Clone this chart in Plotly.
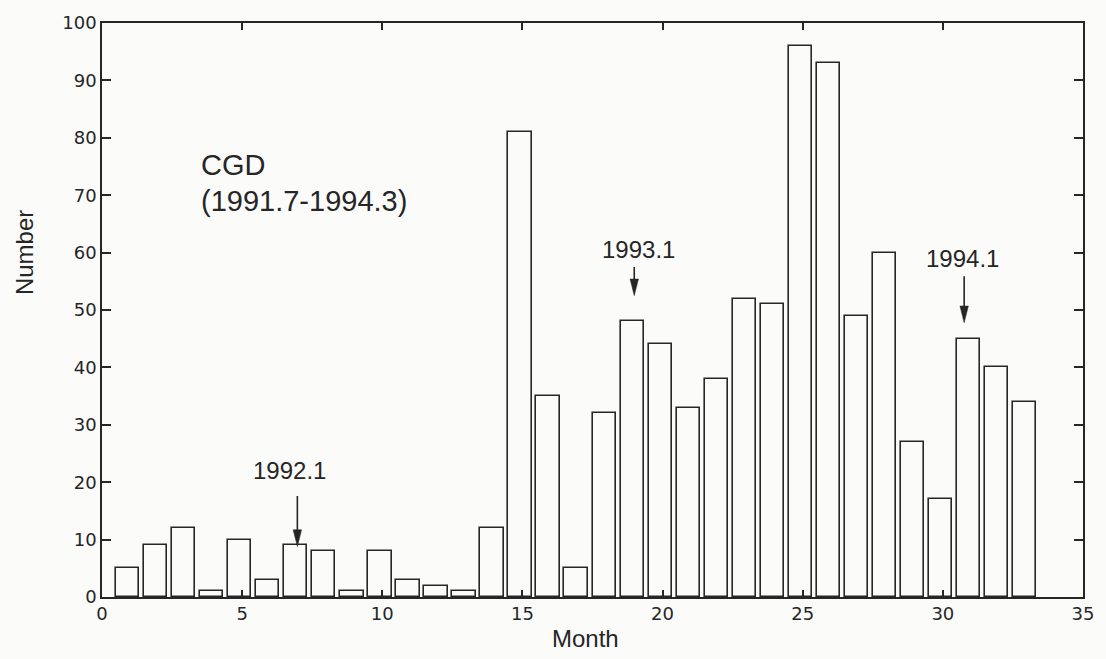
import plotly.graph_objects as go

# ---- data ----
months = list(range(1, 34))
counts = [5, 9, 12, 1, 10, 3, 9, 8, 1, 8, 3, 2, 1, 12, 81, 35, 5,
          32, 48, 44, 33, 38, 52, 51, 96, 93, 49, 60, 27, 17, 45, 40, 34]
x_ticks = [0, 5, 10, 15, 20, 25, 30, 35]
y_ticks = [0, 10, 20, 30, 40, 50, 60, 70, 80, 90, 100]
title_lines = ["CGD", "(1991.7-1994.3)"]
event_labels = ["1992.1", "1993.1", "1994.1"]
event_months = [7, 19, 31]

# ---- placement / style (not data) ----
event_arrow_x = [6.97, 18.99, 30.76]
event_label_x = [6.68, 19.14, 30.71]
event_label_y = [22.1, 60.6, 59.0]
arrow_tail_y = [17.6, 57.5, 55.9]
arrow_tip_y = [8.8, 52.5, 47.8]
head_len = 2.9
head_hw = 0.15

INK = "#262626"
BG = "#fbfbfa"
FONT = "Liberation Sans, Arial, Helvetica, sans-serif"
TICKFONT = "DejaVu Sans, Verdana, sans-serif"

fig = go.Figure()
fig.add_trace(go.Bar(
    x=months, y=counts, width=0.83, offset=-0.5,
    marker=dict(color=BG, line=dict(color=INK, width=1.6)),
    showlegend=False,
))

shapes = []
annotations = []
for lab, ax, lx, ly, ty, py in zip(event_labels, event_arrow_x, event_label_x,
                                   event_label_y, arrow_tail_y, arrow_tip_y):
    shapes.append(dict(type="line", xref="x", yref="y", x0=ax, x1=ax,
                       y0=ty, y1=py + head_len * 0.8,
                       line=dict(color=INK, width=1.6)))
    shapes.append(dict(type="path", xref="x", yref="y",
                       path=f"M {ax - head_hw},{py + head_len} L {ax + head_hw},{py + head_len} L {ax},{py} Z",
                       fillcolor=INK, line=dict(color=INK, width=0.5)))
    annotations.append(dict(x=lx, y=ly, xref="x", yref="y", text=lab,
                            showarrow=False, xanchor="center", yanchor="middle",
                            font=dict(size=24, color=INK, family=FONT)))

annotations.append(dict(x=3.47, y=75.2, xref="x", yref="y", text=title_lines[0],
                        showarrow=False, xanchor="left", yanchor="middle",
                        font=dict(size=29, color=INK, family=FONT)))
annotations.append(dict(x=3.47, y=69.0, xref="x", yref="y", text=title_lines[1],
                        showarrow=False, xanchor="left", yanchor="middle",
                        font=dict(size=29, color=INK, family=FONT)))
annotations.append(dict(x=0.493, y=-0.073, xref="paper", yref="paper", text="Month",
                        showarrow=False, xanchor="center", yanchor="middle",
                        font=dict(size=24, color=INK, family=FONT)))
annotations.append(dict(x=-0.079, y=0.60, xref="paper", yref="paper", text="Number",
                        showarrow=False, xanchor="center", yanchor="middle", textangle=-90,
                        font=dict(size=24, color=INK, family=FONT)))

axis_common = dict(showline=True, linecolor=INK, linewidth=1.6, mirror="ticks",
                   ticks="inside", tickcolor=INK, tickwidth=1.6, showgrid=False,
                   zeroline=False, tickfont=dict(size=18, color=INK, family=TICKFONT))

fig.update_layout(
    width=1106, height=659,
    margin=dict(l=102, r=14, t=15, b=62),
    paper_bgcolor=BG, plot_bgcolor=BG,
    xaxis=dict(range=[0, 35], tickvals=x_ticks, ticktext=[str(v) for v in x_ticks],
               ticklen=7, **axis_common),
    yaxis=dict(range=[0, 100], tickvals=y_ticks, ticktext=[str(v) for v in y_ticks],
               ticklen=9, **axis_common),
    shapes=shapes, annotations=annotations,
    bargap=0,
)

fig.write_html("out.html")
